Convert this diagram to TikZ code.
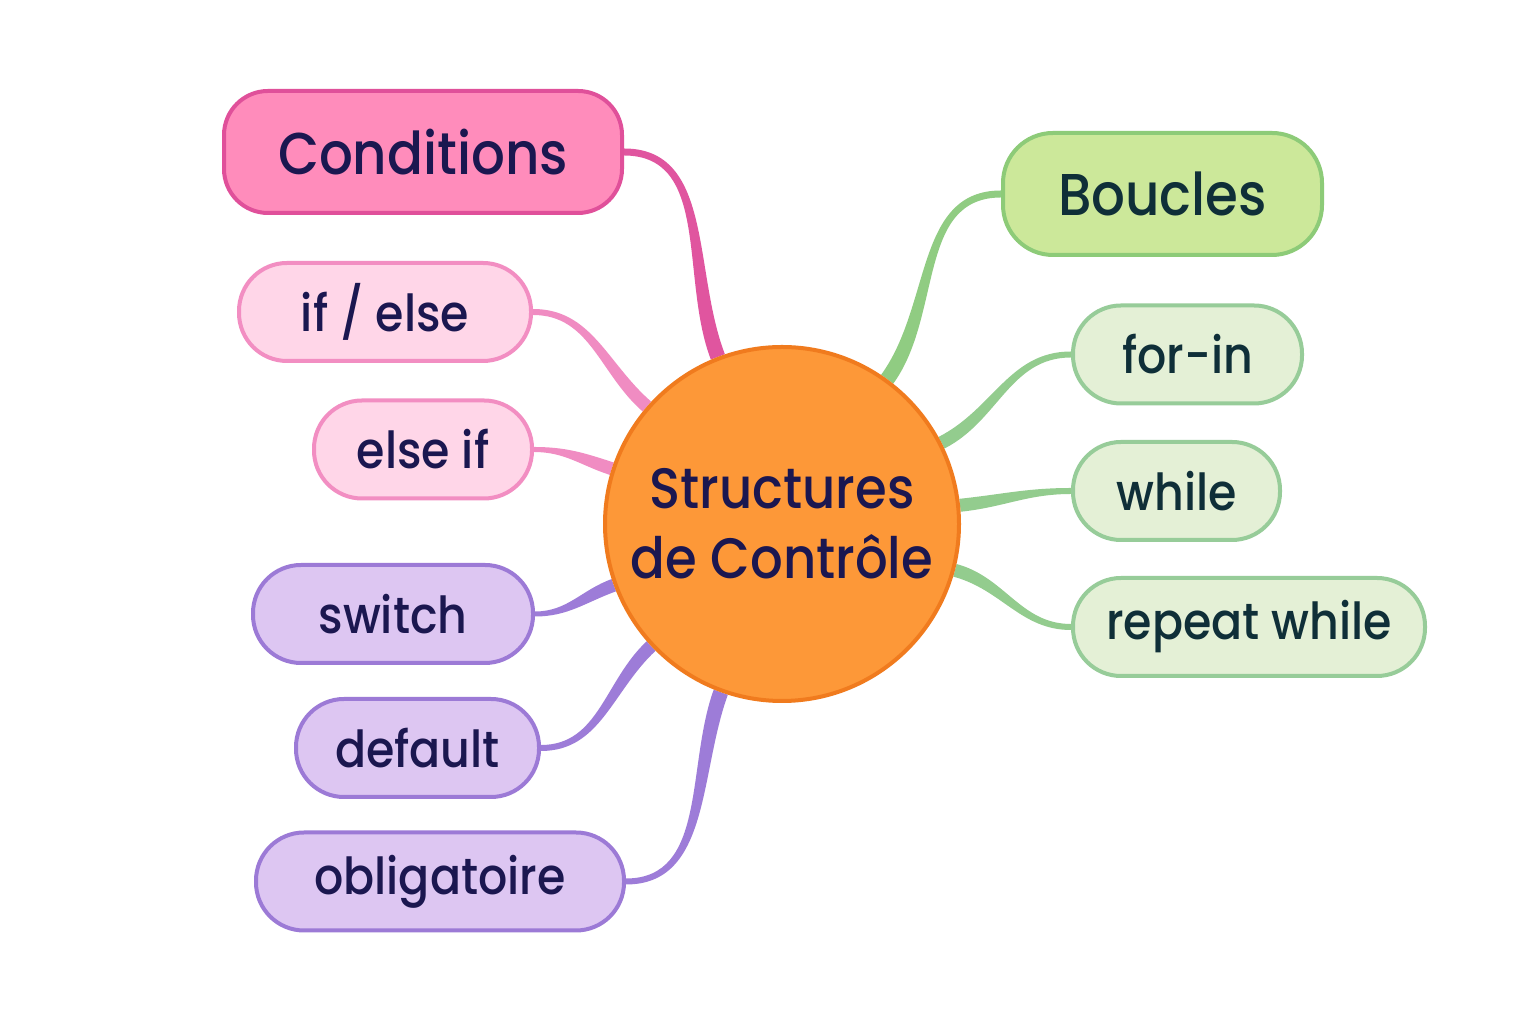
\documentclass[tikz,border=0pt]{standalone}
\usepackage{fontspec}
\setmainfont{Poppins}[FakeStretch=0.9, UprightFont=* Medium]
\usetikzlibrary{calc,backgrounds}
\definecolor{pinkF}{HTML}{FF8CBB}
\definecolor{pinkB}{HTML}{E0509A}
\definecolor{pinkL}{HTML}{E0559F}
\definecolor{lpinkF}{HTML}{FFD6E8}
\definecolor{lpinkB}{HTML}{F28EC2}
\definecolor{lpinkL}{HTML}{F08CC2}
\definecolor{purpF}{HTML}{DDC6F2}
\definecolor{purpB}{HTML}{9C7AD6}
\definecolor{purpL}{HTML}{9D7CD8}
\definecolor{greenF}{HTML}{CCE89A}
\definecolor{greenB}{HTML}{8DCB78}
\definecolor{greenL}{HTML}{90CC82}
\definecolor{lgreenF}{HTML}{E4F0D6}
\definecolor{lgreenB}{HTML}{97CC99}
\definecolor{lgreenL}{HTML}{93CC8E}
\definecolor{orangeF}{HTML}{FD9838}
\definecolor{orangeB}{HTML}{F07B1E}
\definecolor{navy}{HTML}{1B1750}
\definecolor{tealtxt}{HTML}{0F2F38}
\newcommand\taperL[5]{%
  \fill[#3] ($(#1)+(0,#4)$) to[out=0,in=#2] ($(ctr.#2)+({#2-90}:#5)$)
    -- ($(ctr.#2)+({#2+90}:#5)$) to[out=#2,in=0] ($(#1)+(0,-#4)$) -- cycle;}
\newcommand\taperR[5]{%
  \fill[#3] ($(#1)+(0,-#4)$) to[out=180,in=#2] ($(ctr.#2)+({#2-90}:#5)$)
    -- ($(ctr.#2)+({#2+90}:#5)$) to[out=#2,in=180] ($(#1)+(0,#4)$) -- cycle;}
\begin{document}
\begin{tikzpicture}[x=1pt,y=1pt,
  basebox/.style={draw, line width=4pt, inner sep=0pt, anchor=center},
  mainpink/.style={basebox, draw=pinkB, fill=pinkF, rounded corners=44pt, text=navy,
    font=\fontsize{59}{61}\selectfont, minimum height=122pt},
  subpink/.style={basebox, draw=lpinkB, fill=lpinkF, rounded corners=48pt, text=navy,
    font=\fontsize{51}{53}\selectfont, minimum height=98pt},
  subpurp/.style={basebox, draw=purpB, fill=purpF, rounded corners=48pt, text=navy,
    font=\fontsize{51}{53}\selectfont, minimum height=98pt},
  maingreen/.style={basebox, draw=greenB, fill=greenF, rounded corners=50pt, text=tealtxt,
    font=\fontsize{59}{61}\selectfont, minimum height=122pt},
  subgreen/.style={basebox, draw=lgreenB, fill=lgreenF, rounded corners=48pt, text=tealtxt,
    font=\fontsize{51}{53}\selectfont, minimum height=98pt},
  hub/.style={circle, draw=orangeB, fill=orangeF, line width=4pt, minimum size=354pt,
    inner sep=0pt, align=center, text=navy, font=\fontsize{57}{70}\selectfont}
]
\useasboundingbox (0,0) rectangle (1536,1024);
\node[hub] (ctr) at (782,500) {Structures\\de Contrôle};
\node[mainpink, minimum width=398pt] (cond) at (423,872) {Conditions};
\node[subpink, minimum width=292pt] (ifelse) at (385,712) {if / else};
\node[subpink, minimum width=218pt] (elseif) at (423,574.5) {else if};
\node[subpurp, minimum width=280pt] (switch) at (393,410) {switch};
\node[subpurp, minimum width=243pt] (default) at (417.5,276) {default};
\node[subpurp, minimum width=368pt] (oblig) at (440,142.5) {obligatoire};
\node[maingreen, minimum width=319pt] (boucles) at (1162.5,830) {Boucles};
\node[subgreen, minimum width=229pt] (forin) at (1187.5,669.5) {for-in};
\node[subgreen, minimum width=207pt] (while) at (1176.5,533) {while};
\node[subgreen, minimum width=352pt] (repeat) at (1249,397) {repeat while};
\begin{scope}[on background layer]
  \fill[white] (0,0) rectangle (1536,1024);
  \taperL{cond.east}{111}{pinkL}{3.5}{7.5}
  \taperL{ifelse.east}{139}{lpinkL}{3}{6.5}
  \taperL{elseif.east}{162}{lpinkL}{2.5}{6.5}
  \taperL{switch.east}{200}{purpL}{2.5}{6.5}
  \taperL{default.east}{223}{purpL}{3}{6.5}
  \taperL{oblig.east}{250}{purpL}{3}{7.5}
  \taperR{boucles.west}{54}{greenL}{3.5}{7.5}
  \taperR{forin.west}{27}{lgreenL}{3}{6.5}
  \taperR{while.west}{6}{lgreenL}{3}{6.5}
  \taperR{repeat.west}{345}{lgreenL}{3}{6.5}
\end{scope}
\end{tikzpicture}
\end{document}
